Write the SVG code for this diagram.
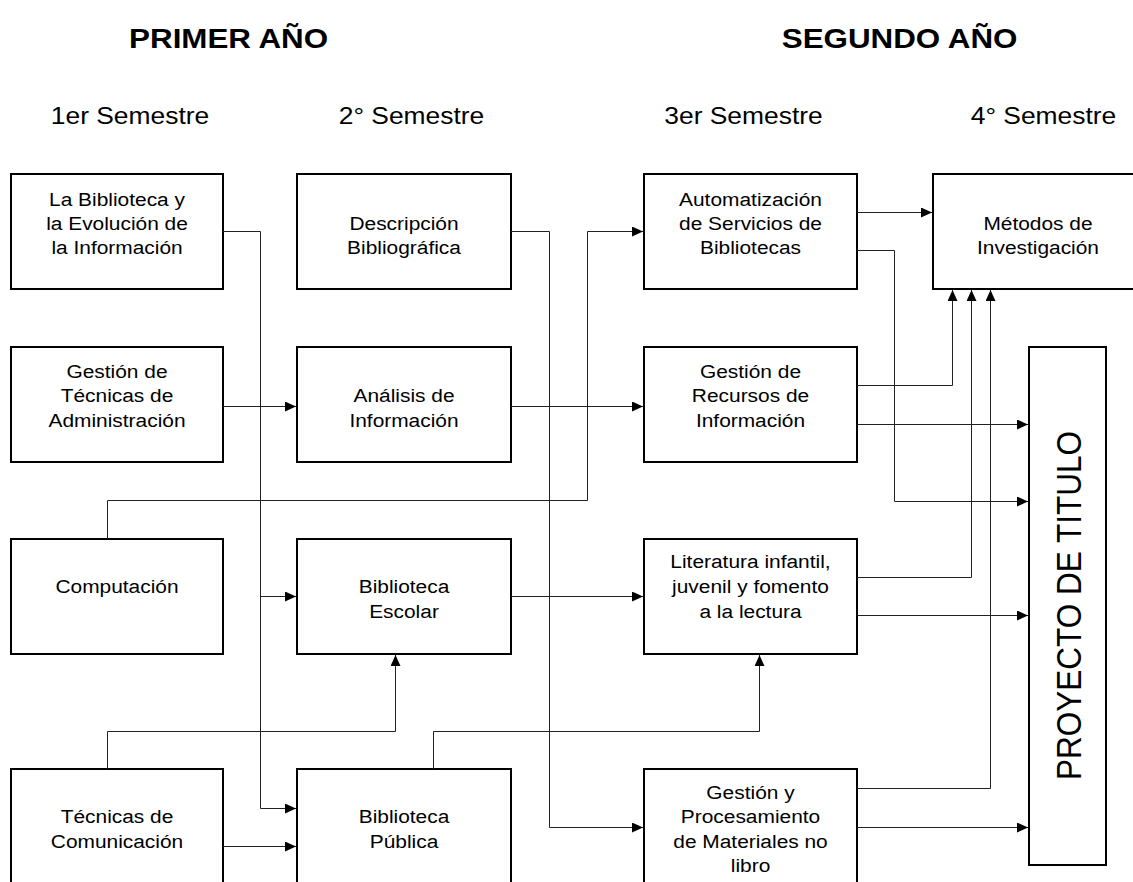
<svg xmlns="http://www.w3.org/2000/svg" width="1133" height="882" viewBox="0 0 1133 882">
<defs>
<marker id="ah" markerUnits="userSpaceOnUse" markerWidth="12" markerHeight="10" refX="11" refY="5" orient="auto"><path d="M0,0 L11,5 L0,10 z" fill="#000"/></marker>
<style>
.box{fill:#fff;stroke:#000;stroke-width:2}
.t{font-family:"Liberation Sans",Arial,sans-serif;font-size:19px;fill:#000;text-anchor:middle}
.sem{font-size:24px}
.title{font-size:28.5px;font-weight:bold}
.big{font-size:31.5px}
.c{fill:none;stroke:#222;stroke-width:1;marker-end:url(#ah)}
</style>
</defs>
<rect width="1133" height="882" fill="#fff"/>
<g id="headers">
<text class="t title" transform="matrix(1.1 0 0 1 228.6 0)" x="0" y="48">PRIMER AÑO</text>
<text class="t title" transform="matrix(1.1 0 0 1 899.6 0)" x="0" y="48">SEGUNDO AÑO</text>
<text class="t sem" transform="matrix(1.1 0 0 1 130 0)" x="0" y="124">1er Semestre</text>
<text class="t sem" transform="matrix(1.1 0 0 1 411.5 0)" x="0" y="124">2° Semestre</text>
<text class="t sem" transform="matrix(1.1 0 0 1 743.5 0)" x="0" y="124">3er Semestre</text>
<text class="t sem" transform="matrix(1.1 0 0 1 1043.5 0)" x="0" y="124">4° Semestre</text>
</g>
<g id="n-biblioteca-evolucion"><rect class="box" x="11" y="174" width="212" height="115"/>
<text class="t" transform="matrix(1.1 0 0 1 117 0)"><tspan x="0" y="206">La Biblioteca y</tspan><tspan x="0" y="230">la Evolución de</tspan><tspan x="0" y="254.5">la Información</tspan></text></g>
<g id="n-descripcion"><rect class="box" x="297" y="174" width="214" height="115"/>
<text class="t" transform="matrix(1.1 0 0 1 404 0)"><tspan x="0" y="230">Descripción</tspan><tspan x="0" y="254.5">Bibliográfica</tspan></text></g>
<g id="n-automatizacion"><rect class="box" x="644" y="174" width="213" height="115"/>
<text class="t" transform="matrix(1.1 0 0 1 750.5 0)"><tspan x="0" y="206">Automatización</tspan><tspan x="0" y="230">de Servicios de</tspan><tspan x="0" y="254.5">Bibliotecas</tspan></text></g>
<g id="n-metodos"><rect class="box" x="933" y="174" width="212" height="115"/>
<text class="t" transform="matrix(1.1 0 0 1 1038 0)"><tspan x="0" y="230">Métodos de</tspan><tspan x="0" y="254.5">Investigación</tspan></text></g>
<g id="n-gestion-tecnicas"><rect class="box" x="11" y="347" width="212" height="115"/>
<text class="t" transform="matrix(1.1 0 0 1 117 0)"><tspan x="0" y="378">Gestión de</tspan><tspan x="0" y="402.5">Técnicas de</tspan><tspan x="0" y="427">Administración</tspan></text></g>
<g id="n-analisis"><rect class="box" x="297" y="347" width="214" height="115"/>
<text class="t" transform="matrix(1.1 0 0 1 404 0)"><tspan x="0" y="402.5">Análisis de</tspan><tspan x="0" y="427">Información</tspan></text></g>
<g id="n-recursos"><rect class="box" x="644" y="347" width="213" height="115"/>
<text class="t" transform="matrix(1.1 0 0 1 750.5 0)"><tspan x="0" y="378">Gestión de</tspan><tspan x="0" y="402.5">Recursos de</tspan><tspan x="0" y="427">Información</tspan></text></g>
<g id="n-proyecto"><rect class="box" x="1029" y="347" width="77" height="518"/>
<text class="t big" transform="translate(1081 605.5) matrix(1.1 0 0 1 0 0) rotate(-90)" x="0" y="0">PROYECTO DE TITULO</text></g>
<g id="n-computacion"><rect class="box" x="11" y="539" width="212" height="115"/>
<text class="t" transform="matrix(1.1 0 0 1 117 0)"><tspan x="0" y="593.5">Computación</tspan></text></g>
<g id="n-escolar"><rect class="box" x="297" y="539" width="214" height="115"/>
<text class="t" transform="matrix(1.1 0 0 1 404 0)"><tspan x="0" y="593.5">Biblioteca</tspan><tspan x="0" y="618">Escolar</tspan></text></g>
<g id="n-literatura"><rect class="box" x="644" y="539" width="213" height="115"/>
<text class="t" transform="matrix(1.1 0 0 1 750.5 0)"><tspan x="0" y="568.5">Literatura infantil,</tspan><tspan x="0" y="593.5">juvenil y fomento</tspan><tspan x="0" y="618">a la lectura</tspan></text></g>
<g id="n-comunicacion"><rect class="box" x="11" y="769" width="212" height="115"/>
<text class="t" transform="matrix(1.1 0 0 1 117 0)"><tspan x="0" y="823.5">Técnicas de</tspan><tspan x="0" y="848">Comunicación</tspan></text></g>
<g id="n-publica"><rect class="box" x="297" y="769" width="214" height="115"/>
<text class="t" transform="matrix(1.1 0 0 1 404 0)"><tspan x="0" y="823.5">Biblioteca</tspan><tspan x="0" y="848">Pública</tspan></text></g>
<g id="n-materiales"><rect class="box" x="644" y="769" width="213" height="115"/>
<text class="t" transform="matrix(1.1 0 0 1 750.5 0)"><tspan x="0" y="799">Gestión y</tspan><tspan x="0" y="823.5">Procesamiento</tspan><tspan x="0" y="848">de Materiales no</tspan><tspan x="0" y="872">libro</tspan></text></g>
<g id="connectors">
<path class="c" d="M223,231.5 H260.5 V808.5 H296"/>
<path class="c" d="M260.5,596.5 H296"/>
<path class="c" d="M223,406.5 H296"/>
<path class="c" d="M107.5,539 V500.5 H587.5 V231.5 H643"/>
<path class="c" d="M107.5,769 V731.5 H395.5 V655"/>
<path class="c" d="M223,846.5 H296"/>
<path class="c" d="M511,231.5 H549.5 V827.5 H643"/>
<path class="c" d="M511,406.5 H643"/>
<path class="c" d="M511,596.5 H643"/>
<path class="c" d="M433.5,769 V731.5 H759.5 V655"/>
<path class="c" d="M857,212.5 H932"/>
<path class="c" d="M857,250.5 H894.5 V501.5 H1028"/>
<path class="c" d="M857,385.5 H952.5 V290"/>
<path class="c" d="M857,424.5 H1028"/>
<path class="c" d="M857,577.5 H971.5 V290"/>
<path class="c" d="M857,615.5 H1028"/>
<path class="c" d="M857,788.5 H990.5 V290"/>
<path class="c" d="M857,827.5 H1028"/>
</g>
</svg>
